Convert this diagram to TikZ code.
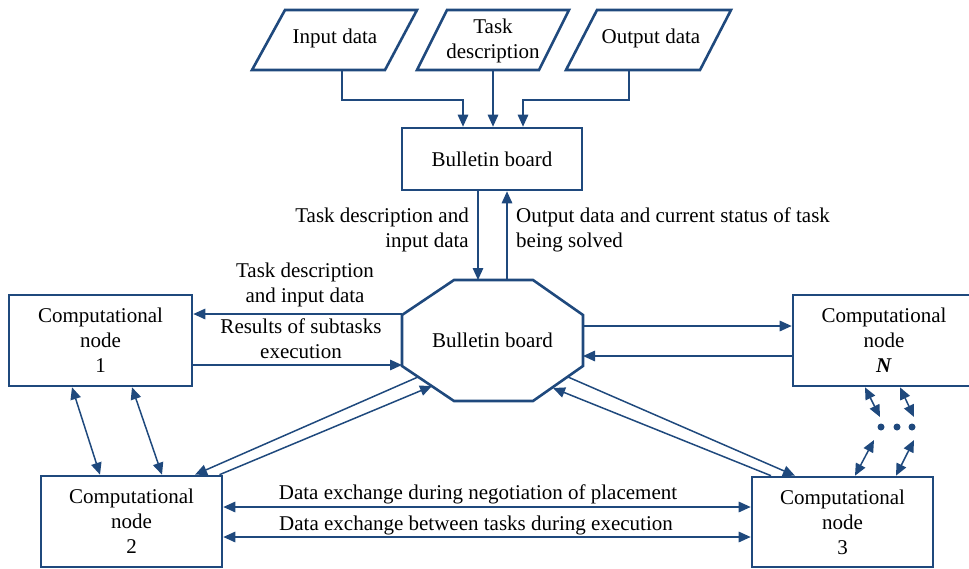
\documentclass[tikz,border=0pt]{standalone}
\usepackage{fontspec}
\setmainfont{Liberation Serif}
\usetikzlibrary{arrows.meta}
\definecolor{ln}{RGB}{31,73,125}
\begin{document}
\begin{tikzpicture}[x=1pt,y=-1pt,
  font=\rmfamily\fontsize{21}{25}\selectfont,
  shp/.style={draw=ln,line width=2.6pt,line join=miter},
  box/.style={shp,rectangle,inner sep=0pt,align=center},
  lbl/.style={inner sep=0pt,align=center},
  tip/.tip={Triangle[length=12pt,width=10.5pt]},
  conn/.style={draw=ln,line width=1.5pt,-tip},
  both/.style={draw=ln,line width=1.5pt,tip-tip},
  dot/.style={circle,fill=ln,inner sep=0pt,minimum size=7pt}]
\useasboundingbox (0,0) rectangle (969,568);

% input parallelograms
\draw[shp] (285,10) -- (417,10) -- (385,70) -- (252,70) -- cycle;
\draw[shp] (447,10) -- (569,10) -- (539,70) -- (417,70) -- cycle;
\draw[shp] (597,10) -- (731,10) -- (700,70) -- (566,70) -- cycle;
\node[lbl] (inp) at (335,38.5) {Input data};
\node[lbl] (task) at (493,40.6) {Task\\description};
\node[lbl] (out) at (651,38.5) {Output data};
\coordinate (inpB) at (342,70);
\coordinate (taskB) at (493,70);
\coordinate (outB) at (629,70);

% upper bulletin board
\node[box,minimum width=180pt,minimum height=62pt] (bb) at (492,159) {Bulletin board};

% octagon bulletin board
\draw[shp] (454,280) -- (533,280) -- (583,315) -- (583,366) -- (533,401)
  -- (454,401) -- (402,366) -- (402,315) -- cycle;
\node[lbl] (oct) at (492.5,340) {Bulletin board};
\coordinate (octT) at (492.5,280);
\coordinate (octL) at (402,340.5);
\coordinate (octR) at (583,340.5);
\coordinate (oA) at (418,377);
\coordinate (oB) at (432,386);
\coordinate (oC) at (568,377);
\coordinate (oD) at (553,388);

% computational nodes
\node[box,minimum width=183pt,minimum height=91pt] (n1) at (100.5,340.5) {Computational\\node\\1};
\node[box,minimum width=182pt,minimum height=91pt] (nN) at (884,340.5) {Computational\\node\\\textbf{\textit{N}}};
\node[box,minimum width=181pt,minimum height=91pt] (n2) at (131.5,521.5) {Computational\\node\\2};
\node[box,minimum width=181pt,minimum height=90pt] (n3) at (842.5,522) {Computational\\node\\3};

% dots
\node[dot] (d1) at (881,427) {};
\node[dot] (d2) at (897,427) {};
\node[dot] (d3) at (912,427) {};

% top connectors
\draw[conn] (inpB) |- ++(0,30) -| ([xshift=-29pt]bb.north);
\draw[conn] (taskB) -- (taskB |- bb.north);
\draw[conn] (outB) |- ++(0,30) -| ([xshift=31pt]bb.north);

% bb <-> octagon
\draw[conn] ([xshift=-14pt]bb.south) -- ([xshift=-14pt]bb.south |- octT);
\draw[conn] ([xshift=15pt]bb.south |- octT) -- ([xshift=15pt]bb.south);
\node[lbl,align=right,anchor=east] (l1) at (469,229.6) {Task description and\\input data};
\node[lbl,align=left,anchor=west] (l2) at (516,229.6) {Output data and current status of task\\being solved};

% octagon <-> node 1
\draw[conn] ([yshift=26.5pt]octL) -- ([yshift=26.5pt]octL -| n1.east);
\draw[conn] ([yshift=-24.5pt]n1.east) -- ([yshift=-24.5pt]n1.east -| octL);
\node[lbl] (l3) at (305,284.6) {Task description\\and input data};
\node[lbl] (l4) at (301,338.4) {Results of subtasks\\execution};

% octagon <-> node N
\draw[conn] ([yshift=14.5pt]octR) -- ([yshift=14.5pt]octR -| nN.west);
\draw[conn] ([yshift=-15.5pt]nN.west) -- ([yshift=-15.5pt]nN.west -| octR);

% node 1 <-> node 2
\draw[both] ([xshift=-28.5pt]n1.south) -- ([xshift=-31.5pt]n2.north);
\draw[both] ([xshift=31.5pt]n1.south) -- ([xshift=30.5pt]n2.north);

% octagon <-> node 2
\draw[conn] (oA) -- ([xshift=63.5pt]n2.north);
\draw[conn] ([xshift=88pt]n2.north) -- (oB);

% octagon <-> node 3
\draw[conn] (oC) -- ([xshift=-47.5pt]n3.north);
\draw[conn] ([xshift=-71.5pt]n3.north) -- (oD);

% node N <-> dots <-> node 3
\draw[both] ([xshift=-19pt]nN.south) -- ([xshift=-1pt,yshift=10pt]d1.center);
\draw[both] ([xshift=16pt]nN.south) -- ([xshift=2pt,yshift=10pt]d3.center);
\draw[both] ([xshift=-7pt,yshift=-13pt]d1.center) -- ([xshift=12.5pt]n3.north);
\draw[both] ([xshift=2pt,yshift=-13pt]d3.center) -- ([xshift=53.5pt]n3.north);

% node 2 <-> node 3
\draw[both] ([yshift=14.5pt]n2.east) -- ([yshift=14.5pt]n2.east -| n3.west);
\draw[both] ([yshift=-15.5pt]n2.east) -- ([yshift=-15.5pt]n2.east -| n3.west);
\node[lbl,anchor=base] (l5) at (478,499) {Data exchange during negotiation of placement};
\node[lbl,anchor=base] (l6) at (476,530) {Data exchange between tasks during execution};
\end{tikzpicture}
\end{document}
